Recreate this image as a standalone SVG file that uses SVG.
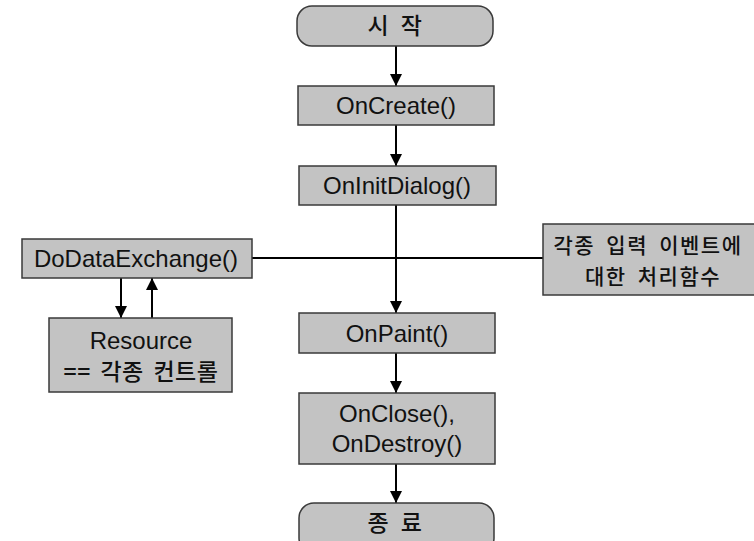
<svg xmlns="http://www.w3.org/2000/svg" width="754" height="541" viewBox="0 0 754 541">
<style>
.box{fill:#c3c3c3;stroke:#3a3a3a;stroke-width:1.5}
.t{font-family:"Liberation Sans","Noto Sans CJK KR",sans-serif;font-size:24px;fill:#111;text-anchor:middle}
.k{font-family:"Noto Sans CJK KR","Liberation Sans",sans-serif;font-size:23px;font-weight:500;fill:#111;text-anchor:middle;letter-spacing:0.5px;word-spacing:4px}
.k2{font-size:21px;letter-spacing:1.5px;word-spacing:5px}
.ln{stroke:#000;stroke-width:2;fill:none}
</style>
<defs>
<marker id="ah" viewBox="0 0 12 12" refX="12" refY="6" markerWidth="12" markerHeight="12" markerUnits="userSpaceOnUse" orient="auto">
<path d="M0,0 L12,6 L0,12 Z" fill="#000"/>
</marker>
</defs>
<rect width="754" height="541" fill="#fff"/>
<g id="connectors">
<line class="ln" x1="396" y1="46" x2="396" y2="86" marker-end="url(#ah)"/>
<line class="ln" x1="396" y1="125" x2="396" y2="166" marker-end="url(#ah)"/>
<line class="ln" x1="396" y1="205" x2="396" y2="313" marker-end="url(#ah)"/>
<line class="ln" x1="252" y1="258" x2="543" y2="258"/>
<line class="ln" x1="121" y1="278" x2="121" y2="318" marker-end="url(#ah)"/>
<line class="ln" x1="152" y1="318" x2="152" y2="278" marker-end="url(#ah)"/>
<line class="ln" x1="396" y1="353" x2="396" y2="393" marker-end="url(#ah)"/>
<line class="ln" x1="396" y1="464" x2="396" y2="503" marker-end="url(#ah)"/>
</g>
<g id="start">
<rect class="box" x="297" y="6" width="196" height="40" rx="15"/>
<text class="k" x="395" y="34" style="word-spacing:6px">시 작</text>
</g>
<g id="oncreate">
<rect class="box" x="298" y="86" width="196" height="39"/>
<text class="t" x="396" y="114">OnCreate()</text>
</g>
<g id="oninitdialog">
<rect class="box" x="299" y="166" width="197" height="39"/>
<text class="t" x="397" y="194">OnInitDialog()</text>
</g>
<g id="dodataexchange">
<rect class="box" x="22" y="239" width="230" height="39"/>
<text class="t" x="136" y="267">DoDataExchange()</text>
</g>
<g id="resource">
<rect class="box" x="49" y="318" width="183" height="74"/>
<text class="t" x="141" y="349">Resource</text>
<text class="k" x="141" y="380">== 각종 컨트롤</text>
</g>
<g id="handlers">
<rect class="box" x="543" y="224" width="213" height="71"/>
<text class="k k2" x="648" y="253">각종 입력 이벤트에</text>
<text class="k k2" x="653" y="284">대한 처리함수</text>
</g>
<g id="onpaint">
<rect class="box" x="299" y="313" width="196" height="40"/>
<text class="t" x="397" y="342">OnPaint()</text>
</g>
<g id="onclose">
<rect class="box" x="299" y="393" width="196" height="71"/>
<text class="t" x="397" y="422">OnClose(),</text>
<text class="t" x="397" y="452">OnDestroy()</text>
</g>
<g id="end">
<rect class="box" x="299" y="503" width="195" height="50" rx="15"/>
<text class="k" x="395" y="531" style="word-spacing:6px">종 료</text>
</g>
</svg>
